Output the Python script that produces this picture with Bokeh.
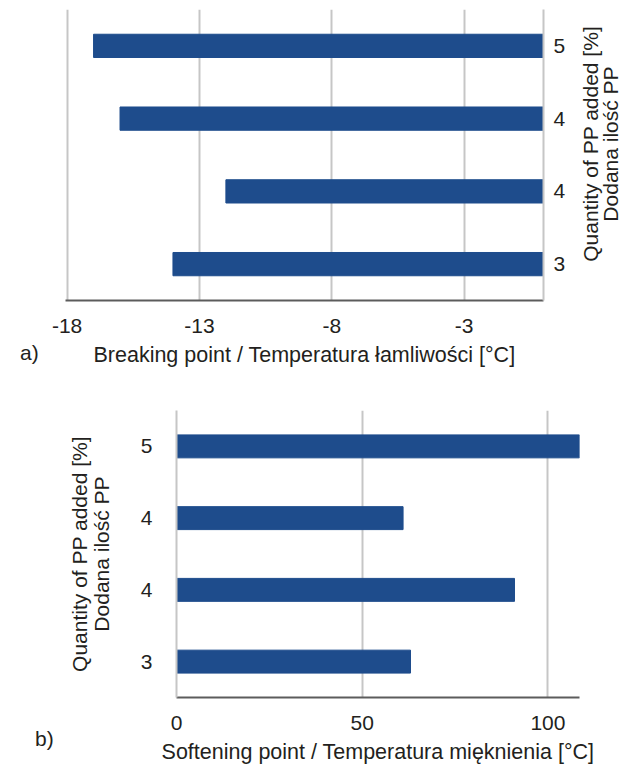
from bokeh.plotting import figure
from bokeh.models import FixedTicker, Range1d, Div
from bokeh.embed import file_html
from bokeh.resources import INLINE

# ---- data (top-to-bottom order, as in the picture) ----
categories = ["5", "4", "4", "3"]
breaking_point = [-17, -16, -12, -14]
softening_point = [109, 61, 91, 63]
breaking_ticks = [-18, -13, -8, -3]
softening_ticks = [0, 50, 100]
breaking_title = "Breaking point / Temperatura łamliwości [°C]"
softening_title = "Softening point / Temperatura mięknienia [°C]"
y_title_lines = ["Quantity of PP added [%]", "Dodana ilość PP"]
panel_tags = ["a)", "b)"]

FONT = "Liberation Sans"
FS = "21px"
FS_TITLE = "21.5px"
BAR = "#1E4C8C"
GRID = "#C6C6C6"
AXIS_DARK = "#5C5C5C"
TXT = "#231F20"

n = len(categories)
ypos = [n - i for i in range(n)]


def style_axis(ax):
    ax.major_tick_line_color = None
    ax.minor_tick_line_color = None
    ax.major_label_text_font = FONT
    ax.major_label_text_font_size = FS
    ax.major_label_text_color = TXT
    ax.axis_label_text_font = FONT
    ax.axis_label_text_font_size = FS_TITLE
    ax.axis_label_text_font_style = "normal"
    ax.axis_label_text_color = TXT


def text_div(text, left, top, width, height, extra=None):
    st = {"position": "absolute", "left": f"{left}px", "top": f"{top}px",
          "font-family": FONT, "font-size": FS, "color": TXT,
          "line-height": "21px", "white-space": "nowrap", "margin": "0",
          "padding": "0"}
    if extra:
        st.update(extra)
    return Div(text=text, width=width, height=height, styles=st)


# ---- top chart ----
p1 = figure(width=632, height=383, x_range=Range1d(-18.06, 0),
            y_range=Range1d(0.5, n + 0.5), y_axis_location="right",
            output_backend="svg", toolbar_location=None,
            min_border_left=65, min_border_right=89,
            min_border_top=9, min_border_bottom=83)
p1.hbar(y=ypos, left=breaking_point, right=0, height=0.32,
        fill_color=BAR, line_color=BAR)
xa = p1.xaxis[0]
style_axis(xa)
xa.ticker = FixedTicker(ticks=breaking_ticks)
xa.major_label_overrides = {t: str(t) for t in breaking_ticks}
xa.axis_line_color = AXIS_DARK
xa.axis_line_width = 2
xa.major_label_standoff = 12
xa.axis_label = breaking_title
xa.axis_label_standoff = 7
ya = p1.yaxis[0]
style_axis(ya)
ya.ticker = FixedTicker(ticks=ypos)
ya.major_label_overrides = {ypos[i]: categories[i] for i in range(n)}
ya.axis_line_color = GRID
ya.axis_line_width = 2
ya.major_label_standoff = 4
p1.xgrid.ticker = FixedTicker(ticks=breaking_ticks)
p1.xgrid.grid_line_color = GRID
p1.xgrid.grid_line_width = 2
p1.ygrid.grid_line_color = None
p1.outline_line_color = None

# ---- bottom chart ----
p2 = figure(width=632, height=383, x_range=Range1d(0, 108.5),
            y_range=Range1d(0.5, n + 0.5),
            output_backend="svg", toolbar_location=None,
            min_border_left=176, min_border_right=53,
            min_border_top=27, min_border_bottom=66)
p2.hbar(y=ypos, left=0, right=softening_point, height=0.32,
        fill_color=BAR, line_color=BAR)
xb = p2.xaxis[0]
style_axis(xb)
xb.ticker = FixedTicker(ticks=softening_ticks)
xb.major_label_overrides = {t: str(t) for t in softening_ticks}
xb.axis_line_color = AXIS_DARK
xb.axis_line_width = 2
xb.major_label_standoff = 12
xb.axis_label = softening_title
xb.axis_label_standoff = 7
yb = p2.yaxis[0]
style_axis(yb)
yb.axis_label_text_font_size = FS
yb.ticker = FixedTicker(ticks=ypos)
yb.major_label_overrides = {ypos[i]: categories[i] for i in range(n)}
yb.axis_line_color = GRID
yb.axis_line_width = 2
yb.major_label_standoff = 18
yb.axis_label = "\n".join(y_title_lines)
yb.axis_label_standoff = 25
yb.axis_label_text_line_height = 0.97
p2.xgrid.ticker = FixedTicker(ticks=softening_ticks)
p2.xgrid.grid_line_color = GRID
p2.xgrid.grid_line_width = 2
p2.ygrid.grid_line_color = None
p2.outline_line_color = None

# ---- free texts outside the plot frames ----
tag_a = text_div(panel_tags[0], 20, 342, 30, 22)
tag_b = text_div(panel_tags[1], 35, 728, 30, 22)
right_title = text_div("<br>".join(y_title_lines), 471, 124, 260, 40,
                       {"text-align": "center", "line-height": "20px",
                        "transform": "rotate(-90deg)",
                        "transform-origin": "50% 50%"})

open("out.html", "w").write(file_html([p1, p2, tag_a, tag_b, right_title], INLINE))
